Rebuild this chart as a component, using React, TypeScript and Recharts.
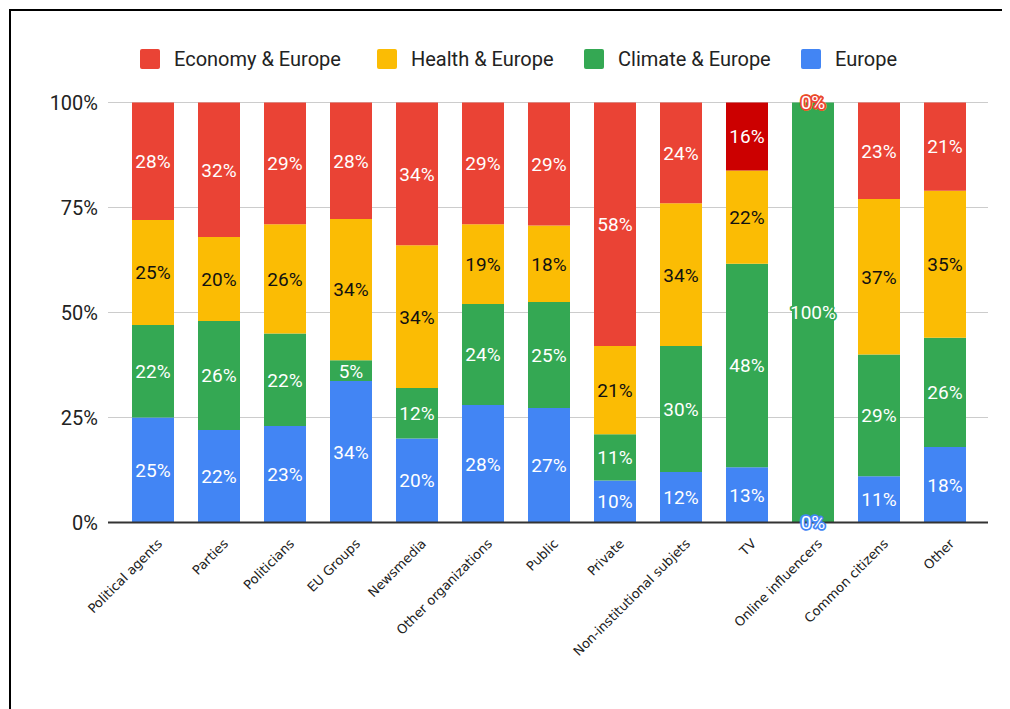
import React from 'react';
import { BarChart, Bar, XAxis, YAxis, CartesianGrid, Legend, LabelList, Cell } from 'recharts';

const categories = [
  'Political agents', 'Parties', 'Politicians', 'EU Groups', 'Newsmedia', 'Other organizations',
  'Public', 'Private', 'Non-institutional subjets', 'TV', 'Online influencers', 'Common citizens', 'Other',
];
const europe = [25, 22, 23, 34, 20, 28, 27, 10, 12, 13, 0, 11, 18];
const climate = [22, 26, 22, 5, 12, 24, 25, 11, 30, 48, 100, 29, 26];
const health = [25, 20, 26, 34, 34, 19, 18, 21, 34, 22, 0, 37, 35];
const economy = [28, 32, 29, 28, 34, 29, 29, 58, 24, 16, 0, 23, 21];
const yTicks = [0, 0.25, 0.5, 0.75, 1];

const RED = '#EA4335';
const DARK_RED = '#CC0000';
const YELLOW = '#FBBC04';
const GREEN = '#34A853';
const BLUE = '#4285F4';

const economyColors = categories.map((c) => (c === 'TV' ? DARK_RED : RED));

const data = categories.map((name, i) => ({
  name,
  europe: europe[i],
  climate: climate[i],
  health: health[i],
  economy: economy[i],
}));

const seriesList = [
  { key: 'economy', name: 'Economy & Europe', color: RED },
  { key: 'health', name: 'Health & Europe', color: YELLOW },
  { key: 'climate', name: 'Climate & Europe', color: GREEN },
  { key: 'europe', name: 'Europe', color: BLUE },
];
const legendOffsets = [0, 237, 444, 661];

const labelText = (cx: number, cy: number, value: number, fill: string, halo: string, key?: string) => (
  <text
    key={key}
    x={cx}
    y={cy}
    dy="0.36em"
    textAnchor="middle"
    fill={fill}
    stroke={halo}
    strokeWidth={3.5}
    strokeLinejoin="round"
    paintOrder="stroke"
    fontSize={19}
    fontFamily="Roboto, sans-serif"
  >
    {`${value}%`}
  </text>
);

const getBox = (props: any) => {
  const vb = props.viewBox && props.viewBox.x !== undefined ? props.viewBox : props;
  return { x: Number(vb.x), y: Number(vb.y), w: Number(vb.width), h: Number(vb.height) };
};

const makeLabel = (colors: (i: number) => string, textColor: string) => (props: any) => {
  const { x, y, w, h } = getBox(props);
  const { value, index } = props;
  if (value === undefined || value === null || isNaN(x) || value === 0) return null;
  return labelText(x + w / 2, y + h / 2, value, textColor, colors(index));
};

// climate segment also carries the labels of zero-size neighbours (drawn at its edges)
const climateLabel = (props: any) => {
  const { x, y, w, h } = getBox(props);
  const { value, index } = props;
  if (value === undefined || value === null || isNaN(x)) return null;
  const top = Math.min(y, y + h);
  const bottom = Math.max(y, y + h);
  const cx = x + w / 2;
  const parts: any[] = [];
  if (value !== 0) parts.push(labelText(cx, y + h / 2, value, '#fff', GREEN, 'c'));
  if (europe[index] === 0) parts.push(labelText(cx, bottom, 0, '#fff', BLUE, 'e'));
  if (health[index] === 0 && economy[index] === 0) {
    parts.push(labelText(cx, top, 0, '#111', YELLOW, 'h'));
    parts.push(labelText(cx, top, 0, '#fff', economyColors[index], 'r'));
  }
  return <g>{parts}</g>;
};

const XTick = (props: any) => {
  const { x, y, payload } = props;
  return (
    <text
      transform={`translate(${x + 10},${y + 22}) rotate(-45)`}
      textAnchor="end"
      fill="#222"
      fontSize={13}
      fontFamily="'DejaVu Sans', sans-serif"
    >
      {payload.value}
    </text>
  );
};

const LegendContent = () => (
  <div style={{ position: 'relative', height: 20, fontFamily: 'Roboto, sans-serif', fontSize: 20, color: '#222' }}>
    {seriesList.map((s, i) => (
      <div key={s.key} style={{ position: 'absolute', left: legendOffsets[i], top: 0, display: 'flex', alignItems: 'center' }}>
        <div style={{ width: 20, height: 20, background: s.color, borderRadius: 2, marginRight: 14 }} />
        <span style={{ lineHeight: '20px', whiteSpace: 'nowrap' }}>{s.name}</span>
      </div>
    ))}
  </div>
);

export default function App() {
  return (
    <div style={{ position: 'relative', width: 1002, height: 701, fontFamily: 'Roboto, sans-serif' }}>
      <div
        style={{
          position: 'absolute', left: 1, top: 1, right: 0, bottom: 0,
          borderTop: '2.5px solid #000', borderLeft: '2.5px solid #000',
        }}
      />
      <div style={{ position: 'absolute', left: 0, top: 0 }}>
        <BarChart
          width={1002}
          height={701}
          data={data}
          stackOffset="expand"
          margin={{ top: 94.5, right: 22, bottom: 156.5, left: 40 }}
        >
          <CartesianGrid vertical={false} stroke="#cccccc" />
          <XAxis
            dataKey="name"
            interval={0}
            tick={<XTick />}
            tickLine={false}
            tickSize={0}
            tickMargin={0}
            height={30}
            padding={{ left: 12, right: 10 }}
            axisLine={{ stroke: '#333', strokeWidth: 2 }}
          />
          <YAxis
            width={60}
            ticks={yTicks}
            domain={[0, 1]}
            tickFormatter={(v: number) => `${Math.round(v * 100)}%`}
            tick={{ fill: '#222', fontSize: 20, fontFamily: 'Roboto, sans-serif' }}
            tickLine={false}
            tickSize={0}
            tickMargin={10}
            axisLine={false}
          />
          <Legend
            layout="horizontal"
            verticalAlign="middle"
            align="center"
            wrapperStyle={{ top: 41, left: 132, width: 820 }}
            content={<LegendContent />}
          />
          <Bar dataKey="europe" name="Europe" stackId="s" fill={BLUE} barSize={42} isAnimationActive={false}>
            <LabelList dataKey="europe" content={makeLabel(() => BLUE, '#fff')} />
          </Bar>
          <Bar dataKey="climate" name="Climate & Europe" stackId="s" fill={GREEN} barSize={42} isAnimationActive={false}>
            <LabelList dataKey="climate" content={climateLabel} />
          </Bar>
          <Bar dataKey="health" name="Health & Europe" stackId="s" fill={YELLOW} barSize={42} isAnimationActive={false}>
            <LabelList dataKey="health" content={makeLabel(() => YELLOW, '#111')} />
          </Bar>
          <Bar dataKey="economy" name="Economy & Europe" stackId="s" fill={RED} barSize={42} isAnimationActive={false}>
            {economyColors.map((c, i) => (
              <Cell key={i} fill={c} />
            ))}
            <LabelList dataKey="economy" content={makeLabel((i) => economyColors[i], '#fff')} />
          </Bar>
        </BarChart>
      </div>
    </div>
  );
}
